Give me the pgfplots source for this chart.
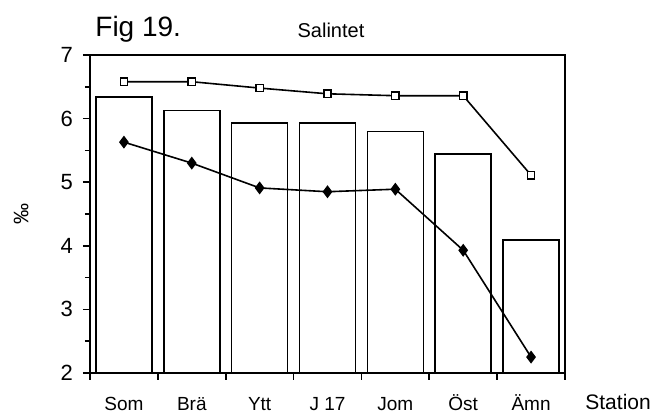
\documentclass[border=0pt]{standalone}
\usepackage{fontspec}
\setmainfont{Liberation Sans}
\usepackage{pgfplots}
\pgfplotsset{compat=1.18}
\begin{document}
\begin{tikzpicture}
\useasboundingbox (-45pt,-22pt) rectangle (287pt,186.5pt);
\begin{axis}[
  name=ax,
  scale only axis, width=237.5pt, height=159pt,
  at={(0,0)}, anchor=south west,
  xmin=-0.5, xmax=6.5, ymin=2, ymax=7,
  axis line style={line width=0.9pt},
  every tick/.style={black, line width=0.8pt},
  tick align=outside,
  xtick pos=bottom, ytick pos=left,
  major tick length=3.5pt, minor tick length=2.5pt,
  xtick={-0.5,0.5,...,6.5}, xticklabels={},
  extra x ticks={0,1,2,3,4,5,6},
  extra x tick labels={Som,Brä,Ytt,J 17,Jom,Öst,Ämn},
  extra x tick style={major tick length=0pt, tick style={draw=none}},
  xticklabel style={font=\fontsize{9.5}{11}\selectfont, anchor=base, yshift=-19pt},
  ytick={2,3,4,5,6,7}, minor ytick={2.5,3.5,4.5,5.5,6.5},
  yticklabel style={font=\fontsize{11}{13}\selectfont, xshift=-1.5pt},
  /pgf/number format/assume math mode=true,
  ylabel={‰},
  ylabel style={at={(axis description cs:-0.145,0.5)}, anchor=center, font=\fontsize{10.5}{12}\selectfont},
]
\addplot[ybar, bar width=28pt, bar shift=0pt, draw=black, line width=0.75pt, fill=white]
  coordinates {(0,6.34) (1,6.13) (2,5.93) (3,5.93) (4,5.80) (5,5.44) (6,4.09)};
\addplot[black, line width=0.8pt, mark=square*, mark size=1.8pt, mark options={fill=white, line width=0.7pt}]
  coordinates {(0,6.58) (1,6.58) (2,6.48) (3,6.39) (4,6.36) (5,6.36) (6,5.11)};
\addplot[black, line width=0.8pt, mark=diamond*, mark size=2.6pt, mark options={fill=black}]
  coordinates {(0,5.63) (1,5.30) (2,4.91) (3,4.85) (4,4.89) (5,3.93) (6,2.25)};
\end{axis}
\node[anchor=base west, inner sep=0pt, font=\fontsize{14}{16}\selectfont] at ([xshift=2.5pt,yshift=9.5pt]ax.north west) {Fig 19.};
\node[anchor=base, inner sep=0pt, font=\fontsize{10}{12}\selectfont] at ([xshift=120.5pt,yshift=8.5pt]ax.north west) {Salintet};
\node[anchor=base west, inner sep=0pt, font=\fontsize{10.5}{12}\selectfont] at ([xshift=10pt,yshift=-18.5pt]ax.south east) {Station};
\end{tikzpicture}
\end{document}
